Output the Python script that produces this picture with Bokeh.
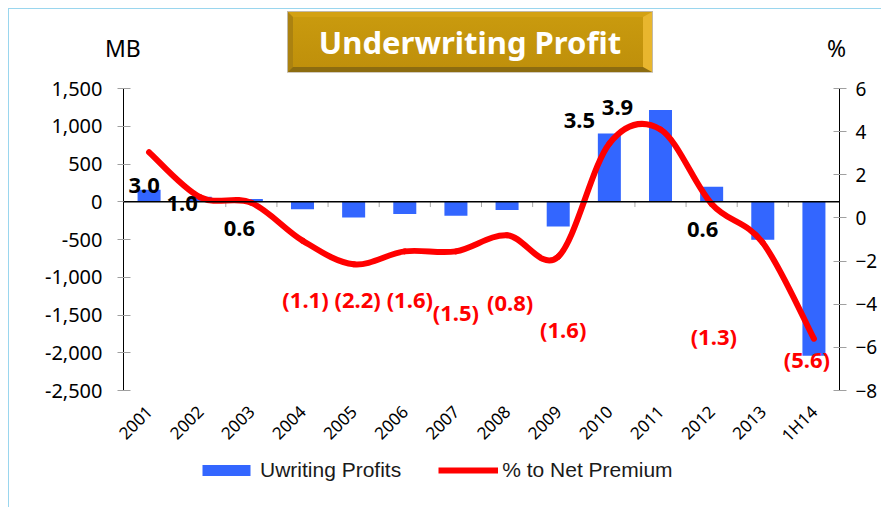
import numpy as np
from bokeh.plotting import figure
from bokeh.layouts import column
from bokeh.models import (Range1d, LinearAxis, FixedTicker, Span, Div,
                          Legend, LegendItem, ColumnDataSource, NumeralTickFormatter)
from bokeh.embed import file_html
from bokeh.resources import INLINE
from bokeh.core.properties import value

# ---------------- data ----------------
categories = ["2001", "2002", "2003", "2004", "2005", "2006", "2007",
              "2008", "2009", "2010", "2011", "2012", "2013", "1H14"]
profits_mb = [160, 65, 35, -100, -208, -163, -185, -110, -327, 905, 1215, 199, -503, -2040]
pct_net_premium = [3.05, 0.96, 0.7, -1.05, -2.15, -1.55, -1.55, -0.8, -1.8, 3.45, 4.1, 0.65, -1.15, -5.6]
pct_labels = ["3.0", "1.0", "0.6", "(1.1)", "(2.2)", "(1.6)", "(1.5)", "(0.8)", "(1.6)",
              "3.5", "3.9", "0.6", "(1.3)", "(5.6)"]
mb_ticks = [-2500, -2000, -1500, -1000, -500, 0, 500, 1000, 1500]
pct_ticks = [-8, -6, -4, -2, 0, 2, 4, 6]
title_text = "Underwriting Profit"
left_unit = "MB"
right_unit = "%"
series_names = ["Uwriting Profits", "% to Net Premium"]

# label placement (pixels, relative to each point)
label_dx = [-5, -18, -12, 3, 4, 5, 0, 3, 5, -30, -43, -9, -49, -7]
label_dy = [33, 6, 26, 58, 35, 48, 61, 67, 72, -23, -22, 26, 93, 20]

n = len(categories)
idx = list(range(n))

FONT = "Noto Sans"
BORDER = "1px solid #9ad6ee"

# ---------------- header (title box + unit labels) ----------------
header_html = f"""
<div style="position:relative;width:872px;height:63px;font-family:'{FONT}';">
  <div style="position:absolute;left:96px;top:28px;font-size:23px;line-height:23px;color:#000;">{left_unit}</div>
  <div style="position:absolute;left:818px;top:28px;font-size:23px;line-height:23px;color:#000;">{right_unit}</div>
  <div style="position:absolute;left:279px;top:3px;width:364px;height:60px;box-sizing:border-box;
              border-style:solid;border-width:5px 9px 5px 5px;
              border-color:#d3a113 #e8b62e #8c6c10 #ab8210;
              background:linear-gradient(#c99a0e,#bf900b);
              box-shadow:0 0 0 1px rgba(120,100,60,0.45);
              display:flex;align-items:center;justify-content:center;
              color:#ffffff;font-weight:bold;font-size:31px;line-height:31px;padding-left:4px;">{title_text}</div>
</div>
"""
header = Div(text=header_html, width=872, height=63, margin=0)

# ---------------- chart ----------------
p = figure(frame_width=716, frame_height=302, output_backend="svg", toolbar_location=None,
           x_range=Range1d(-0.5, n - 0.5), y_range=Range1d(mb_ticks[0], mb_ticks[-1]),
           min_border_left=114, min_border_right=40, min_border_top=16, min_border_bottom=60,
           background_fill_color="white", border_fill_color="white", margin=0)
p.title.visible = False
p.outline_line_color = None
p.xgrid.grid_line_color = None
p.ygrid.grid_line_color = None
p.extra_y_ranges = {"pct": Range1d(pct_ticks[0], pct_ticks[-1])}

# left axis
ly = p.yaxis[0]
ly.ticker = FixedTicker(ticks=mb_ticks)
ly.formatter = NumeralTickFormatter(format="0,0")
ly.axis_line_color = "black"
ly.major_tick_line_color = "#a0a0a0"
ly.major_tick_in = 7
ly.major_tick_out = 6
ly.minor_tick_line_color = None
ly.major_label_standoff = 15
ly.major_label_text_font = FONT
ly.major_label_text_font_size = "20px"
ly.major_label_text_color = "black"

# right axis
ry = LinearAxis(y_range_name="pct", ticker=FixedTicker(ticks=pct_ticks))
ry.axis_line_color = "black"
ry.major_tick_line_color = "#a0a0a0"
ry.major_tick_in = 6
ry.major_tick_out = 7
ry.minor_tick_line_color = None
ry.major_label_standoff = 9
ry.major_label_text_font = FONT
ry.major_label_text_font_size = "19px"
ry.major_label_text_color = "black"
p.add_layout(ry, "right")

# x axis
xa = p.xaxis[0]
xa.ticker = FixedTicker(ticks=idx)
xa.major_label_overrides = {i: c for i, c in zip(idx, categories)}
xa.axis_line_color = None
xa.major_tick_line_color = None
xa.major_tick_out = 0
xa.major_tick_in = 0
xa.minor_tick_line_color = None
xa.major_label_orientation = np.pi / 4
xa.major_label_standoff = 18
xa.major_label_text_font = FONT
xa.major_label_text_font_size = "17px"
xa.major_label_text_color = "black"

# bars
bars = p.vbar(x=idx, top=profits_mb, width=0.45, fill_color="#3366ff", line_color=None)

# zero line + category tick marks
p.add_layout(Span(location=0, dimension="width", line_color="black", line_width=1.5))
bounds = [i + 0.5 for i in idx[:-1]]
p.segment(x0=bounds, x1=bounds, y0=[0] * len(bounds), y1=[-70] * len(bounds),
          line_color="#a8a8a8", line_width=1)

# smoothed line (Catmull-Rom style bezier segments through the data points)
xs = np.array(idx, dtype=float)
ys = np.array(pct_net_premium, dtype=float)
xp = np.concatenate([[xs[0]], xs, [xs[-1]]])
yp = np.concatenate([[ys[0]], ys, [ys[-1]]])
cx0 = xp[1:n] + (xp[2:n + 1] - xp[0:n - 1]) / 6
cy0 = yp[1:n] + (yp[2:n + 1] - yp[0:n - 1]) / 6
cx1 = xp[2:n + 1] - (xp[3:n + 2] - xp[1:n]) / 6
cy1 = yp[2:n + 1] - (yp[3:n + 2] - yp[1:n]) / 6
p.bezier(x0=xs[:-1], y0=ys[:-1], x1=xs[1:], y1=ys[1:], cx0=cx0, cy0=cy0, cx1=cx1, cy1=cy1,
         y_range_name="pct", line_color="#ff0000", line_width=6, line_cap="round")

# value labels
lab_src = ColumnDataSource(dict(
    x=idx, y=pct_net_premium, text=pct_labels, dx=label_dx, dy=label_dy,
    color=["#ff0000" if t.startswith("(") else "#000000" for t in pct_labels]))
p.text(x="x", y="y", text="text", x_offset="dx", y_offset="dy", source=lab_src,
       y_range_name="pct", text_color="color", text_font=value(FONT),
       text_font_style="bold", text_font_size="22px", text_align="center",
       text_baseline="middle")

# ---------------- legend strip ----------------
lf = figure(width=872, height=50, output_backend="svg", toolbar_location=None,
            x_range=Range1d(-0.5, n - 0.5), y_range=Range1d(mb_ticks[0], mb_ticks[-1]),
            x_axis_type=None, y_axis_type=None, min_border=0, margin=0,
            background_fill_color="white", border_fill_color="white")
lf.title.visible = False
lf.outline_line_color = None
lf.xgrid.grid_line_color = None
lf.ygrid.grid_line_color = None
lg_bars = lf.vbar(x=idx, top=profits_mb, width=0.45, fill_color="#3366ff", line_color=None,
                  visible=False)
lg_line = lf.line(x=idx, y=profits_mb, line_color="#ff0000", line_width=6, line_cap="butt",
                  visible=False)
legend = Legend(items=[LegendItem(label=series_names[0], renderers=[lg_bars]),
                       LegendItem(label=series_names[1], renderers=[lg_line])],
                location=(73, 25), orientation="horizontal",
                glyph_width=60, glyph_height=14, label_standoff=4, spacing=37,
                padding=0, margin=0, border_line_color=None,
                background_fill_alpha=0.0,
                label_text_font="Liberation Sans", label_text_font_size="21px",
                label_text_color="#1a1a1a")
lf.add_layout(legend, "center")

root = column(header, p, lf, spacing=0,
              styles={"margin": "8px 0 0 8px", "border-top": BORDER, "border-left": BORDER})

open("out.html", "w").write(file_html(root, INLINE))
